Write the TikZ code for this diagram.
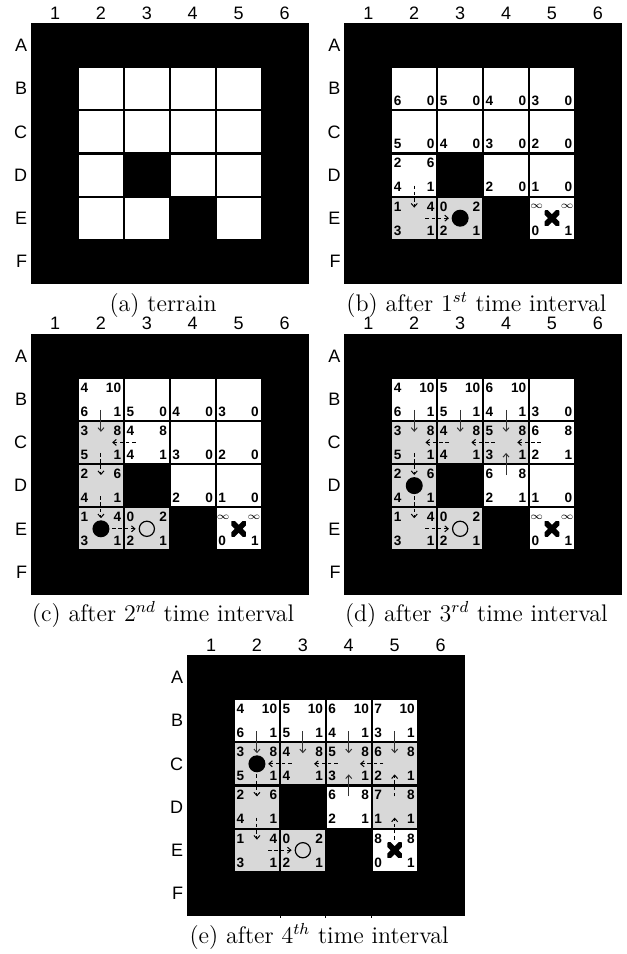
\documentclass[tikz,border=0pt]{standalone}
\usepackage{fontspec}
\newfontfamily\labfamily{Liberation Sans}
\usetikzlibrary{calc,arrows.meta}
\definecolor{cellgray}{RGB}{216,216,216}
\tikzset{
  lab/.style={font=\labfamily\fontsize{9}{10}\selectfont, inner sep=0pt},
  num/.style={font=\labfamily\bfseries\fontsize{6.8}{7}\selectfont, inner sep=0pt},
  infn/.style={font=\fontsize{4.6}{5}\selectfont, inner sep=0pt},
  captext/.style={font=\fontsize{12}{15}\selectfont, inner sep=0pt, anchor=base},
  ballf/.style={circle, fill=black, minimum size=8.5pt, inner sep=0pt},
  ballo/.style={circle, draw=black, line width=0.6pt, minimum size=7.6pt, inner sep=0pt},
  goal/.style={minimum size=7.3pt, inner sep=0pt,
    path picture={\draw[line width=2.8pt]
      (path picture bounding box.south west) -- (path picture bounding box.north east)
      (path picture bounding box.north west) -- (path picture bounding box.south east);}},
  arr/.style={line width=0.5pt, draw=black!80, -{Straight Barb[length=1.7pt,width=3pt]}},
  darr/.style={arr, draw=black, dash pattern=on 1.8pt off 1.3pt},
  tick/.style={line width=0.4pt}
}
% panel frame, labels and cell-centre coordinates; uses \pn \ox \oy
\newcommand\drawpanel{%
  \fill[black] (\ox-1.5,\oy-0.8) rectangle (\ox+276.4,\oy+260.2);
  \foreach \c in {1,...,6} {
    \node[lab,anchor=base] (\pn-col\c) at (\ox+\c*45.9-22.95,\oy-4.5) {\c};
    \foreach \r in {1,...,6}
      \coordinate (\pn-\c\r) at (\ox+\c*45.9-22.95,\oy+\r*43.2-21.6);
  }
  \foreach \r/\R in {1/A,2/B,3/C,4/D,5/E,6/F}
    \node[lab,anchor=east] (\pn-row\R) at (\ox-4.5,\oy+\r*43.2-21.6) {\R};
}
\newcommand\cellbox[3]{\fill[#3] (\ox+#1*45.9-44.8,\oy+#2*43.2-42.1) rectangle (\ox+#1*45.9-1.1,\oy+#2*43.2-1.1);}
\newcommand\tnums[4]{%
  \node[num,anchor=base west] (\pn-#1#2-tl) at (\ox+#1*45.9-43.7,\oy+#2*43.2-28.8) {#3};
  \node[num,anchor=base east] (\pn-#1#2-tr) at (\ox+#1*45.9-2.4,\oy+#2*43.2-28.8) {#4};}
\newcommand\bnums[4]{%
  \node[num,anchor=base west] (\pn-#1#2-bl) at (\ox+#1*45.9-43.7,\oy+#2*43.2-4.8) {#3};
  \node[num,anchor=base east] (\pn-#1#2-br) at (\ox+#1*45.9-2.4,\oy+#2*43.2-4.8) {#4};}
\newcommand\infs[2]{%
  \node[infn] (\pn-#1#2-tl) at (\ox+#1*45.9-38.3,\oy+#2*43.2-33.5) {$\infty$};
  \node[infn] (\pn-#1#2-tr) at (\ox+#1*45.9-7.6,\oy+#2*43.2-33.5) {$\infty$};}
\newcommand\mv[3]{\draw[#1] ($(\pn-#2)!0.245!(\pn-#3)$) -- ($(\pn-#2)!0.755!(\pn-#3)$);}
\newcommand\whites[1]{\foreach \cc/\rr in {#1} {\cellbox{\cc}{\rr}{white}}}
\newcommand\grays[1]{\foreach \cc/\rr in {#1} {\cellbox{\cc}{\rr}{cellgray}}}
\begin{document}
\begin{tikzpicture}[x=0.5pt,y=-0.5pt]
\useasboundingbox (0,0) rectangle (627,954);
% ---------------- (a)
\def\pn{a}\def\ox{32.1}\def\oy{23.8}
\drawpanel
\whites{2/2,3/2,4/2,5/2,2/3,3/3,4/3,5/3,2/4,4/4,5/4,2/5,3/5,5/5}
\node[captext] (a-cap) at (\ox+131,\oy+287.2) {(a) terrain};
% ---------------- (b)
\def\pn{b}\def\ox{345.4}\def\oy{23.8}
\drawpanel
\whites{2/2,3/2,4/2,5/2,2/3,3/3,4/3,5/3,2/4,4/4,5/4,5/5}
\grays{2/5,3/5}
\bnums{2}{2}{6}{0}\bnums{3}{2}{5}{0}\bnums{4}{2}{4}{0}\bnums{5}{2}{3}{0}
\bnums{2}{3}{5}{0}\bnums{3}{3}{4}{0}\bnums{4}{3}{3}{0}\bnums{5}{3}{2}{0}
\tnums{2}{4}{2}{6}\bnums{2}{4}{4}{1}
\bnums{4}{4}{2}{0}\bnums{5}{4}{1}{0}
\tnums{2}{5}{1}{4}\bnums{2}{5}{3}{1}
\tnums{3}{5}{0}{2}\bnums{3}{5}{2}{1}
\infs{5}{5}\bnums{5}{5}{0}{1}
\node[ballf] (b-ball) at (b-35) {};
\node[goal] (b-goal) at (b-55) {};
\mv{darr}{24}{25}\mv{darr}{25}{35}
\node[captext] (b-cap) at (\ox+131,\oy+287.2) {(b) after 1$^{st}$ time interval};
% ---------------- (c)
\def\pn{c}\def\ox{32.1}\def\oy{334.4}
\drawpanel
\whites{2/2,3/2,4/2,5/2,3/3,4/3,5/3,4/4,5/4,5/5}
\grays{2/3,2/4,2/5,3/5}
\tnums{2}{2}{4}{10}\bnums{2}{2}{6}{1}
\bnums{3}{2}{5}{0}\bnums{4}{2}{4}{0}\bnums{5}{2}{3}{0}
\tnums{2}{3}{3}{8}\bnums{2}{3}{5}{1}
\tnums{3}{3}{4}{8}\bnums{3}{3}{4}{1}
\bnums{4}{3}{3}{0}\bnums{5}{3}{2}{0}
\tnums{2}{4}{2}{6}\bnums{2}{4}{4}{1}
\bnums{4}{4}{2}{0}\bnums{5}{4}{1}{0}
\tnums{2}{5}{1}{4}\bnums{2}{5}{3}{1}
\tnums{3}{5}{0}{2}\bnums{3}{5}{2}{1}
\infs{5}{5}\bnums{5}{5}{0}{1}
\node[ballf] (c-ball) at (c-25) {};
\node[ballo] (c-prev) at (c-35) {};
\node[goal] (c-goal) at (c-55) {};
\mv{arr}{22}{23}\mv{darr}{23}{24}\mv{darr}{24}{25}\mv{darr}{33}{23}\mv{darr}{25}{35}
\node[captext] (c-cap) at (\ox+131,\oy+287.2) {(c) after 2$^{nd}$ time interval};
% ---------------- (d)
\def\pn{d}\def\ox{345.4}\def\oy{334.4}
\drawpanel
\whites{2/2,3/2,4/2,5/2,5/3,4/4,5/4,5/5}
\grays{2/3,3/3,4/3,2/4,2/5,3/5}
\tnums{2}{2}{4}{10}\bnums{2}{2}{6}{1}
\tnums{3}{2}{5}{10}\bnums{3}{2}{5}{1}
\tnums{4}{2}{6}{10}\bnums{4}{2}{4}{1}
\bnums{5}{2}{3}{0}
\tnums{2}{3}{3}{8}\bnums{2}{3}{5}{1}
\tnums{3}{3}{4}{8}\bnums{3}{3}{4}{1}
\tnums{4}{3}{5}{8}\bnums{4}{3}{3}{1}
\tnums{5}{3}{6}{8}\bnums{5}{3}{2}{1}
\tnums{2}{4}{2}{6}\bnums{2}{4}{4}{1}
\tnums{4}{4}{6}{8}\bnums{4}{4}{2}{1}
\bnums{5}{4}{1}{0}
\tnums{2}{5}{1}{4}\bnums{2}{5}{3}{1}
\tnums{3}{5}{0}{2}\bnums{3}{5}{2}{1}
\infs{5}{5}\bnums{5}{5}{0}{1}
\node[ballf] (d-ball) at (d-24) {};
\node[ballo] (d-prev) at (d-35) {};
\node[goal] (d-goal) at (d-55) {};
\mv{arr}{22}{23}\mv{arr}{32}{33}\mv{arr}{42}{43}\mv{arr}{44}{43}
\mv{darr}{23}{24}\mv{darr}{24}{25}
\mv{darr}{33}{23}\mv{darr}{43}{33}\mv{darr}{53}{43}\mv{darr}{25}{35}
\node[captext] (d-cap) at (\ox+131,\oy+287.2) {(d) after 3$^{rd}$ time interval};
% ---------------- (e)
\def\pn{e}\def\ox{188.1}\def\oy{655.8}
\drawpanel
\whites{2/2,3/2,4/2,5/2,4/4,5/5}
\grays{2/3,3/3,4/3,5/3,2/4,5/4,2/5,3/5}
\tnums{2}{2}{4}{10}\bnums{2}{2}{6}{1}
\tnums{3}{2}{5}{10}\bnums{3}{2}{5}{1}
\tnums{4}{2}{6}{10}\bnums{4}{2}{4}{1}
\tnums{5}{2}{7}{10}\bnums{5}{2}{3}{1}
\tnums{2}{3}{3}{8}\bnums{2}{3}{5}{1}
\tnums{3}{3}{4}{8}\bnums{3}{3}{4}{1}
\tnums{4}{3}{5}{8}\bnums{4}{3}{3}{1}
\tnums{5}{3}{6}{8}\bnums{5}{3}{2}{1}
\tnums{2}{4}{2}{6}\bnums{2}{4}{4}{1}
\tnums{4}{4}{6}{8}\bnums{4}{4}{2}{1}
\tnums{5}{4}{7}{8}\bnums{5}{4}{1}{1}
\tnums{2}{5}{1}{4}\bnums{2}{5}{3}{1}
\tnums{3}{5}{0}{2}\bnums{3}{5}{2}{1}
\tnums{5}{5}{8}{8}\bnums{5}{5}{0}{1}
\node[ballf] (e-ball) at (e-23) {};
\node[ballo] (e-prev) at (e-35) {};
\node[goal] (e-goal) at (e-55) {};
\mv{arr}{22}{23}\mv{arr}{32}{33}\mv{arr}{42}{43}\mv{arr}{52}{53}\mv{arr}{44}{43}
\mv{darr}{23}{24}\mv{darr}{24}{25}
\mv{darr}{33}{23}\mv{darr}{43}{33}\mv{darr}{53}{43}
\mv{darr}{54}{53}\mv{darr}{55}{54}\mv{darr}{25}{35}
\foreach \k in {2,3,4}
  \draw[tick] (\ox+\k*45.9,\oy+260) -- (\ox+\k*45.9,\oy+262.5);
\node[captext] (e-cap) at (\ox+131,\oy+287.2) {(e) after 4$^{th}$ time interval};
\end{tikzpicture}
\end{document}
